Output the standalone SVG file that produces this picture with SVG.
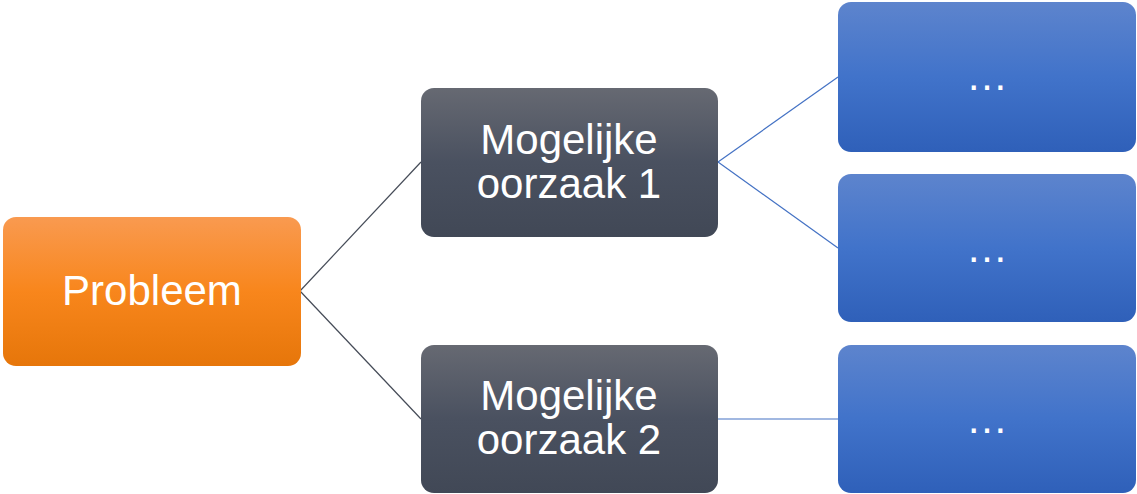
<svg xmlns="http://www.w3.org/2000/svg" width="1137" height="494" viewBox="0 0 1137 494">
<defs>
<linearGradient id="gO" x1="0" y1="0" x2="0" y2="1"><stop offset="0" stop-color="#F99A50"/><stop offset="0.5" stop-color="#F8861C"/><stop offset="1" stop-color="#E6760A"/></linearGradient>
<linearGradient id="gD" x1="0" y1="0" x2="0" y2="1"><stop offset="0" stop-color="#666972"/><stop offset="0.5" stop-color="#4A5160"/><stop offset="1" stop-color="#414856"/></linearGradient>
<linearGradient id="gB" x1="0" y1="0" x2="0" y2="1"><stop offset="0" stop-color="#5D84CD"/><stop offset="0.5" stop-color="#4173CA"/><stop offset="1" stop-color="#2F60B9"/></linearGradient>
</defs>
<style>
text{font-family:"Liberation Sans",Arial,sans-serif;fill:#fff;text-anchor:middle;font-size:42px}
.cd{stroke:#454B57;stroke-width:1.2;fill:none}
.cb{stroke:#4472C4;stroke-width:1.2;fill:none}
</style>
<rect width="1137" height="494" fill="#fff"/>
<g id="connectors">
<line class="cd" x1="300" y1="291" x2="421" y2="162"/>
<line class="cd" x1="300" y1="291" x2="421" y2="419"/>
<line class="cb" x1="718" y1="162" x2="838" y2="77"/>
<line class="cb" x1="718" y1="162" x2="838" y2="248"/>
<line class="cb" x1="718" y1="419" x2="838" y2="419"/>
</g>
<g id="probleem">
<rect x="3" y="217" width="298" height="149" rx="13" fill="url(#gO)"/>
<text x="152" y="305">Probleem</text>
</g>
<g id="oorzaak1">
<rect x="421" y="88" width="297" height="149" rx="13" fill="url(#gD)"/>
<text x="569" y="154">Mogelijke</text>
<text x="569" y="198">oorzaak 1</text>
</g>
<g id="oorzaak2">
<rect x="421" y="345" width="297" height="148" rx="13" fill="url(#gD)"/>
<text x="569" y="410">Mogelijke</text>
<text x="569" y="454">oorzaak 2</text>
</g>
<g id="sub1">
<rect x="838" y="2" width="298" height="150" rx="13" fill="url(#gB)"/>
<text x="987" y="90">…</text>
</g>
<g id="sub2">
<rect x="838" y="174" width="298" height="148" rx="13" fill="url(#gB)"/>
<text x="987" y="262">…</text>
</g>
<g id="sub3">
<rect x="838" y="345" width="298" height="148" rx="13" fill="url(#gB)"/>
<text x="987" y="433">…</text>
</g>
</svg>
